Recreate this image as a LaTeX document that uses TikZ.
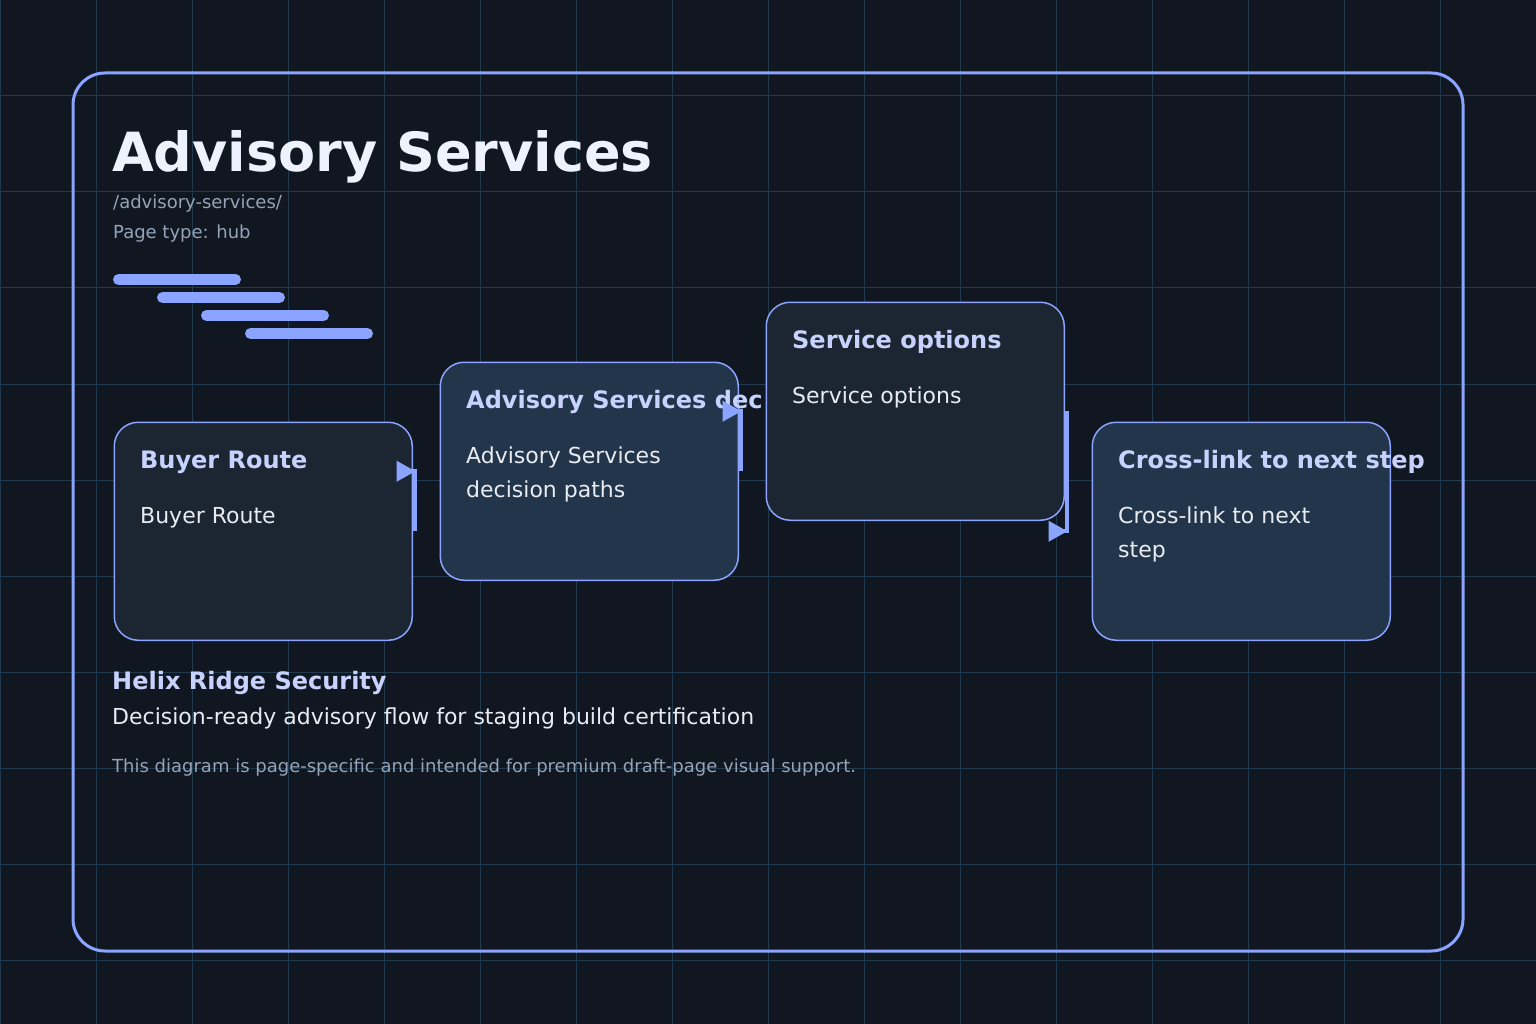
\documentclass[tikz,border=0pt]{standalone}
\usepackage{fontspec}
\setmainfont{DejaVu Sans}
\usetikzlibrary{arrows.meta}
\definecolor{bgdark}{HTML}{111720}
\definecolor{gridblue}{HTML}{223A4E}
\definecolor{accent}{HTML}{8AA4FF}
\definecolor{cardA}{HTML}{1B2632}
\definecolor{cardB}{HTML}{22354A}
\definecolor{headtext}{HTML}{EEF2FF}
\definecolor{cardtitle}{HTML}{C7D2FE}
\definecolor{bodytext}{HTML}{E8ECF2}
\definecolor{mutetext}{HTML}{94A3B8}

\begin{document}
\begin{tikzpicture}[x=1pt,y=-1pt,
    gridline/.style={draw=gridblue,line width=1pt},
    card/.style={draw=accent,line width=1.5pt,rounded corners=24pt,minimum width=298pt,minimum height=218pt,anchor=north west,inner sep=0pt},
    lbl/.style={anchor=base west,inner sep=0pt,align=left},
    cardhead/.style={lbl,text=cardtitle,font=\bfseries\fontsize{24pt}{29pt}\selectfont},
    cardbody/.style={lbl,text=bodytext,font=\fontsize{22pt}{34pt}\selectfont},
    flow/.style={draw=accent,line width=4pt,-{Triangle[length=19pt,width=20pt]}},
    bar/.style={draw=accent,line width=11pt,line cap=round}]
  \useasboundingbox (0,0) rectangle (1536,1024);
  \fill[bgdark] (0,0) rectangle (1536,1024);
  % background grid
  \foreach \gx in {0,96,...,1536}
    \draw[gridline] (\gx,0) -- (\gx,1024);
  \foreach \gy in {0,96,...,1020}
    \draw[gridline] (0,\gy) -- (1536,\gy);
  % outer frame
  \draw[accent,line width=3pt,rounded corners=32pt] (73,73) rectangle (1463,951);

  \node[lbl,text=headtext,font=\bfseries\fontsize{54pt}{60pt}\selectfont] (title) at (112,172) {Advisory Services};
  \node[lbl,text=mutetext,font=\fontsize{18pt}{22pt}\selectfont] (slug) at (113,209) {/advisory-services/};
  \node[lbl,text=mutetext,font=\fontsize{18pt}{22pt}\selectfont] (pagetype) at (113,239) {Page type: hub};

  \draw[bar] (118.5,279.5) -- (235.5,279.5);
  \draw[bar] (162.5,297.5) -- (279.5,297.5);
  \draw[bar] (206.5,315.5) -- (323.5,315.5);
  \draw[bar] (250.5,333.5) -- (367.5,333.5);

  % the four steps
  \node[card,fill=cardA] (buyer) at (113.5,421.5) {};
  \node[cardhead] (buyerhead) at (140,468) {Buyer Route};
  \node[cardbody] (buyerbody) at (140,523) {Buyer Route};

  \node[card,fill=cardB] (decide) at (439.5,361.5) {};
  \node[cardhead] (decidehead) at (466,408) {Advisory Services dec};
  \node[cardbody] (decidebody) at (466,497) {Advisory Services\\decision paths};

  \node[card,fill=cardA] (options) at (765.5,301.5) {};
  \node[cardhead] (optionshead) at (792,348) {Service options};
  \node[cardbody] (optionsbody) at (792,403) {Service options};

  \node[card,fill=cardB] (cross) at (1091.5,421.5) {};
  \node[cardhead] (crosshead) at (1118,468) {Cross-link to next step};
  \node[cardbody] (crossbody) at (1118,557) {Cross-link to next\\step};

  \draw[flow] ([xshift=1.5pt]buyer.east) -- ([xshift=1.5pt]buyer.east |- decide.west) -- ++(1,0);
  \draw[flow] ([xshift=1.5pt]decide.east) -- ([xshift=1.5pt]decide.east |- options.west) -- ++(1,0);
  \draw[flow] ([xshift=1.5pt]options.east) -- ([xshift=1.5pt]options.east |- cross.west) -- ++(1,0);

  \node[lbl,text=cardtitle,font=\bfseries\fontsize{24pt}{29pt}\selectfont] (brand) at (112,689) {Helix Ridge Security};
  \node[lbl,text=bodytext,font=\fontsize{22pt}{27pt}\selectfont] (tagline) at (112,724) {Decision-ready advisory flow for staging build certification};
  \node[lbl,text=mutetext,font=\fontsize{18pt}{22pt}\selectfont] (footnote) at (112,772) {This diagram is page-specific and intended for premium draft-page visual support.};
\end{tikzpicture}
\end{document}
